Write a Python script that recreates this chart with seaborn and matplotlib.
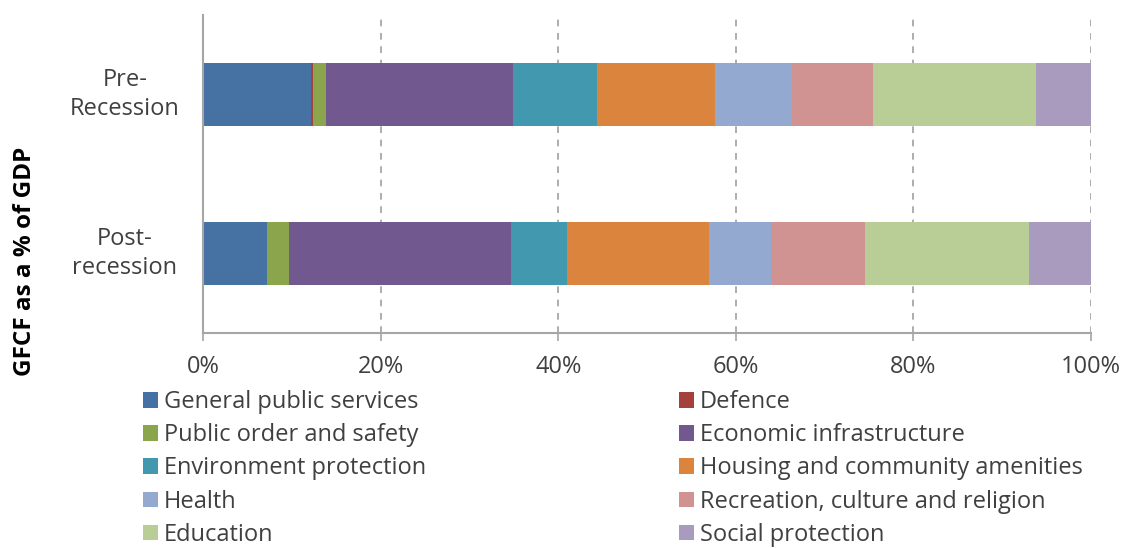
import matplotlib
matplotlib.use("Agg")
import matplotlib.pyplot as plt
from matplotlib.patches import Patch
from matplotlib.transforms import blended_transform_factory
import numpy as np
import pandas as pd
import seaborn as sns

# Share of government GFCF by function (% of total)
periods = ["Pre-\nRecession", "Post-\nrecession"]
functions = [
    "General public services", "Defence", "Public order and safety",
    "Economic infrastructure", "Environment protection",
    "Housing and community amenities", "Health",
    "Recreation, culture and religion", "Education", "Social protection",
]
pre_recession = [12.2, 0.2, 1.4, 21.1, 9.5, 13.3, 8.6, 9.1, 18.4, 6.2]
post_recession = [7.2, 0.0, 2.5, 25.0, 6.3, 16.0, 7.0, 10.6, 18.4, 7.0]
colors = ["#4672A3", "#A5403D", "#8AA54B", "#71588F", "#4298AF",
          "#DB843D", "#93A9CF", "#D19392", "#B9CD96", "#A99BBD"]

sns.set_theme(style="white")
plt.rcParams["font.family"] = ["Open Sans", "DejaVu Sans"]

df = pd.DataFrame({"period": np.repeat(periods, len(functions)),
                   "function": functions * len(periods),
                   "share": pre_recession + post_recession})
df["cum"] = df.groupby("period", sort=False)["share"].cumsum()

fig = plt.figure(figsize=(11.3, 5.48), dpi=100)
ax = fig.add_axes([203 / 1130, 1 - 333 / 548, 888 / 1130, 318 / 548])

# Stack by drawing cumulative totals from the outermost segment inwards
for func, col in reversed(list(zip(functions, colors))):
    sub = df[df["function"] == func]
    sns.barplot(data=sub, x="cum", y="period", order=periods, color=col,
                orient="h", width=0.4, saturation=1, ax=ax, linewidth=0)

ax.set_xlim(0, 100)
ax.set_ylim(1.5, -0.5)
ax.set_xticks([0, 20, 40, 60, 80, 100])
ax.set_xticklabels([f"{t}%" for t in [0, 20, 40, 60, 80, 100]],
                   fontsize=17, color="#404040")
ax.tick_params(axis="x", length=6, width=1.2, color="#A6A6A6",
               direction="out", bottom=True, pad=10)
ax.tick_params(axis="y", left=False, labelleft=False)
ax.set_xlabel("")
ax.set_ylabel("")
for x in [20, 40, 60, 80, 100]:
    ax.axvline(x, color="#A0A0A0", linestyle=(0, (4, 4)), linewidth=1.2, zorder=0)
for side in ["top", "right"]:
    ax.spines[side].set_visible(False)
for side in ["left", "bottom"]:
    ax.spines[side].set_color("#A6A6A6")
    ax.spines[side].set_linewidth(1.5)

trans = blended_transform_factory(ax.transAxes, ax.transData)
for i, lab in enumerate(periods):
    ax.text(-0.088, i, lab, transform=trans, ha="center", va="center",
            fontsize=17, color="#404040", linespacing=1.3)

fig.text(25 / 1130, 1 - 261 / 548, "GFCF as a % of GDP", rotation=90,
         ha="center", va="center", fontsize=17.5, fontweight="bold", color="black")

handles = [Patch(facecolor=c, edgecolor="none", label=f) for f, c in zip(functions, colors)]
order = [0, 2, 4, 6, 8, 1, 3, 5, 7, 9]
fig.legend([handles[i] for i in order], [functions[i] for i in order],
           loc="upper left", bbox_to_anchor=(143 / 1130, 1 - 390 / 548),
           ncol=2, frameon=False, fontsize=17, labelcolor="#404040",
           handlelength=0.64, handleheight=0.64, handletextpad=0.25,
           columnspacing=10.7, labelspacing=0.39, borderaxespad=0, borderpad=0)

fig.savefig("out.png", dpi=100)
